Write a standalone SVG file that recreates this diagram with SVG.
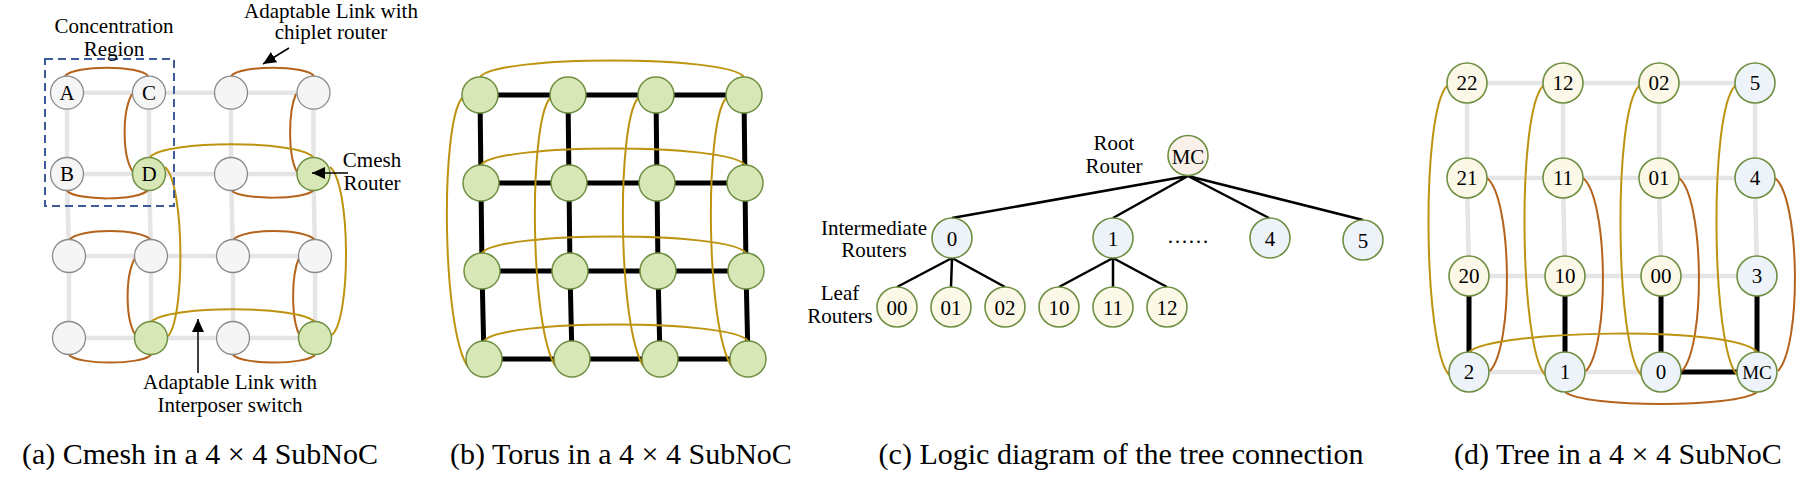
<svg xmlns="http://www.w3.org/2000/svg" width="1815" height="478" viewBox="0 0 1815 478">
<style>
.t{font-family:"Liberation Serif","Times New Roman",serif;font-size:21px;fill:#000}
.m{text-anchor:middle}
.cap{font-family:"Liberation Serif","Times New Roman",serif;font-size:30px;fill:#000;text-anchor:middle}
.gn{fill:#f5f5f5;stroke:#8a8a8a;stroke-width:1.3}
.gr{fill:#d7e8b6;stroke:#6f8f42;stroke-width:1.5}
.nb{fill:#eef3f9;stroke:#6f8f42;stroke-width:1.6}
.nc{fill:#fcf8e7;stroke:#6f8f42;stroke-width:1.6}
.np{fill:#f9f0ea;stroke:#6f8f42;stroke-width:1.6}
.mesh{stroke:#e5e5e5;stroke-width:4.5;fill:none}
.blk{stroke:#000;stroke-width:5;fill:none}
.br{stroke:#b5621b;stroke-width:2;fill:none}
.gd{stroke:#bd930f;stroke-width:2;fill:none}
.edge{stroke:#000;stroke-width:2.5;fill:none}
.arr{stroke:#000;stroke-width:1.5;fill:none;marker-end:url(#ah)}
</style>
<defs>
<marker id="ah" markerUnits="userSpaceOnUse" markerWidth="14" markerHeight="12" refX="13" refY="6" orient="auto">
<path d="M0,0 L13,6 L0,12 Z" fill="#000"/>
</marker>
</defs>
<rect width="1815" height="478" fill="#fff"/>

<g id="connectors">
<!-- panel a mesh -->
<path class="mesh" d="M67,92.7 H313.5 M67,174 H313.5 M69,256 H315 M69,338 H315 M67,92.7 L67,174 L69,256 L69,338 M149,92.7 L149,174 L151,256 L151,338 M231,92.7 L231,174 L233,256 L233,338 M313.5,92.7 L313.5,174 L315,256 L315,338"/>
<!-- panel a chiplet links -->
<path class="br" d="M65,76 C75,65 139,65 148,76"/>
<path class="br" d="M132,94 C122,112 122,156 133,172"/>
<path class="br" d="M67,191 C77,201 139,201 148,190"/>
<path class="br" d="M231,76 C241,65 305,65 314,76"/>
<path class="br" d="M296,94 C288,112 288,156 297,172"/>
<path class="br" d="M232,191 C242,200 305,200 314,190"/>
<path class="br" d="M69,240 C79,228 141,228 151,240"/>
<path class="br" d="M135,258 C125,276 125,320 136,336"/>
<path class="br" d="M69,355 C79,365 141,365 151,355"/>
<path class="br" d="M233,240 C243,228 305,228 315,240"/>
<path class="br" d="M299,258 C291,276 291,320 300,336"/>
<path class="br" d="M233,355 C243,365 305,365 315,355"/>
<!-- panel a interposer links -->
<path class="gd" d="M150,157 C165,140 298,140 313,157"/>
<path class="gd" d="M165,167 C185,185 185,318 168,336"/>
<path class="gd" d="M330,167 C351,185 351,318 332,335"/>
<path class="gd" d="M151,322 C166,305 300,305 315,322"/>

<!-- panel b torus mesh -->
<path class="blk" d="M480,95 H744 M481,183 H745 M482,271 H746 M484,359 H748 M480,95 L481,183 L482,271 L484,359 M568,95 L569,183 L570,271 L572,359 M656,95 L657,183 L658,271 L660,359 M744,95 L745,183 L746,271 L748,359"/>
<path class="gd" d="M480,77 C495,55 729,55 744,77"/>
<path class="gd" d="M481,165 C496,143 730,143 745,165"/>
<path class="gd" d="M482,253 C497,231 731,231 746,253"/>
<path class="gd" d="M484,341 C499,319 733,319 748,341"/>
<path class="gd" d="M462,98 C440,125 442,330 468,367"/>
<path class="gd" d="M550,98 C528,125 530,330 556,367"/>
<path class="gd" d="M638,98 C616,125 618,330 644,367"/>
<path class="gd" d="M726,98 C704,125 706,330 732,367"/>

<!-- panel c tree edges -->
<path class="edge" d="M1188,176 L952,218 M1188,176 L1113,218 M1188,176 L1269,218 M1188,176 L1363,220"/>
<path class="edge" d="M952,258 L897,287 M952,258 L951,287 M952,258 L1005,287"/>
<path class="edge" d="M1113,258 L1059,287 M1113,258 L1113,287 M1113,258 L1167,287"/>

<!-- panel d mesh -->
<path class="mesh" d="M1467,83 H1755 M1467,178 H1755 M1469,276 H1757 M1469,372 H1661 M1467,83 L1467,178 L1469,276 M1563,83 L1563,178 L1565,276 M1659,83 L1659,178 L1661,276 M1755,83 L1755,178 L1757,276"/>
<path class="blk" d="M1469,276 V372 M1565,276 V372 M1661,276 V372 M1757,276 V372 M1661,372 H1757"/>
<path class="gd" d="M1447,86 C1421,112 1423,345 1449,375"/>
<path class="gd" d="M1543,86 C1517,112 1519,345 1545,375"/>
<path class="gd" d="M1639,86 C1613,112 1615,345 1641,375"/>
<path class="gd" d="M1735,86 C1709,112 1711,345 1737,375"/>
<path class="br" d="M1487,178 C1512,198 1514,345 1490,371"/>
<path class="br" d="M1583,178 C1608,198 1610,345 1586,371"/>
<path class="br" d="M1679,178 C1704,198 1706,345 1682,371"/>
<path class="br" d="M1775,178 C1800,198 1802,345 1778,371"/>
<path class="gd" d="M1469,352 C1490,330 1735,325 1757,352"/>
<path class="br" d="M1565,392 C1585,408 1737,408 1757,392"/>
</g>

<!-- panel a region -->
<rect id="a-region" x="45" y="59" width="129" height="147" fill="none" stroke="#3d5a99" stroke-width="2" stroke-dasharray="8 5"/>

<!-- panel a nodes -->
<g id="a-A"><circle class="gn" cx="67" cy="92.7" r="16.5"/><text class="t m" x="67" y="99.5">A</text></g>
<g id="a-C"><circle class="gn" cx="149" cy="92.7" r="16.5"/><text class="t m" x="149" y="99.5">C</text></g>
<g id="a-n13"><circle class="gn" cx="231" cy="92.7" r="16.5"/></g>
<g id="a-n14"><circle class="gn" cx="313.5" cy="92.7" r="16.5"/></g>
<g id="a-B"><circle class="gn" cx="67" cy="174" r="16.5"/><text class="t m" x="67" y="181">B</text></g>
<g id="a-D"><circle class="gr" cx="149" cy="174" r="16.5"/><text class="t m" x="149" y="181">D</text></g>
<g id="a-n23"><circle class="gn" cx="231" cy="174" r="16.5"/></g>
<g id="a-n24"><circle class="gr" cx="313.5" cy="174" r="16.5"/></g>
<g id="a-n31"><circle class="gn" cx="69" cy="256" r="16.5"/></g>
<g id="a-n32"><circle class="gn" cx="151" cy="256" r="16.5"/></g>
<g id="a-n33"><circle class="gn" cx="233" cy="256" r="16.5"/></g>
<g id="a-n34"><circle class="gn" cx="315" cy="256" r="16.5"/></g>
<g id="a-n41"><circle class="gn" cx="69" cy="338" r="16.5"/></g>
<g id="a-n42"><circle class="gr" cx="151" cy="338" r="16.5"/></g>
<g id="a-n43"><circle class="gn" cx="233" cy="338" r="16.5"/></g>
<g id="a-n44"><circle class="gr" cx="315" cy="338" r="16.5"/></g>

<!-- panel a annotation arrows (drawn over nodes) -->
<g id="a-arrows">
<line class="arr" x1="289" y1="48" x2="263" y2="64"/>
<line class="arr" x1="348" y1="173" x2="312" y2="173"/>
<line class="arr" x1="198" y1="373" x2="198" y2="319"/>
</g>

<g id="a-labels">
<text class="t m" x="114" y="33">Concentration</text>
<text class="t m" x="114" y="56">Region</text>
<text class="t m" x="331" y="18">Adaptable Link with</text>
<text class="t m" x="331" y="39">chiplet router</text>
<text class="t m" x="372" y="167">Cmesh</text>
<text class="t m" x="372" y="190">Router</text>
<text class="t m" x="230" y="389">Adaptable Link with</text>
<text class="t m" x="230" y="412">Interposer switch</text>
</g>

<!-- panel b nodes -->
<g id="b-n11"><circle class="gr" cx="480" cy="95" r="18"/></g>
<g id="b-n12"><circle class="gr" cx="568" cy="95" r="18"/></g>
<g id="b-n13"><circle class="gr" cx="656" cy="95" r="18"/></g>
<g id="b-n14"><circle class="gr" cx="744" cy="95" r="18"/></g>
<g id="b-n21"><circle class="gr" cx="481" cy="183" r="18"/></g>
<g id="b-n22"><circle class="gr" cx="569" cy="183" r="18"/></g>
<g id="b-n23"><circle class="gr" cx="657" cy="183" r="18"/></g>
<g id="b-n24"><circle class="gr" cx="745" cy="183" r="18"/></g>
<g id="b-n31"><circle class="gr" cx="482" cy="271" r="18"/></g>
<g id="b-n32"><circle class="gr" cx="570" cy="271" r="18"/></g>
<g id="b-n33"><circle class="gr" cx="658" cy="271" r="18"/></g>
<g id="b-n34"><circle class="gr" cx="746" cy="271" r="18"/></g>
<g id="b-n41"><circle class="gr" cx="484" cy="359" r="18"/></g>
<g id="b-n42"><circle class="gr" cx="572" cy="359" r="18"/></g>
<g id="b-n43"><circle class="gr" cx="660" cy="359" r="18"/></g>
<g id="b-n44"><circle class="gr" cx="748" cy="359" r="18"/></g>

<!-- panel c nodes -->
<g id="c-MC"><circle class="np" cx="1188" cy="155.5" r="20"/><text class="t m" x="1188" y="164">MC</text></g>
<g id="c-0"><circle class="nb" cx="952" cy="238" r="20"/><text class="t m" x="952" y="246">0</text></g>
<g id="c-1"><circle class="nb" cx="1113" cy="238" r="20"/><text class="t m" x="1113" y="246">1</text></g>
<g id="c-4"><circle class="nb" cx="1270" cy="238" r="20"/><text class="t m" x="1270" y="246">4</text></g>
<g id="c-5"><circle class="nb" cx="1363" cy="240" r="20"/><text class="t m" x="1363" y="248">5</text></g>
<g id="c-00"><circle class="nc" cx="897" cy="307" r="20"/><text class="t m" x="897" y="315">00</text></g>
<g id="c-01"><circle class="nc" cx="951" cy="307" r="20"/><text class="t m" x="951" y="315">01</text></g>
<g id="c-02"><circle class="nc" cx="1005" cy="307" r="20"/><text class="t m" x="1005" y="315">02</text></g>
<g id="c-10"><circle class="nc" cx="1059" cy="307" r="20"/><text class="t m" x="1059" y="315">10</text></g>
<g id="c-11"><circle class="nc" cx="1113" cy="307" r="20"/><text class="t m" x="1113" y="315">11</text></g>
<g id="c-12"><circle class="nc" cx="1167" cy="307" r="20"/><text class="t m" x="1167" y="315">12</text></g>
<g id="c-labels">
<text class="t m" x="1114" y="150">Root</text>
<text class="t m" x="1114" y="173">Router</text>
<text class="t m" x="874" y="235">Intermediate</text>
<text class="t m" x="874" y="257">Routers</text>
<text class="t m" x="840" y="300">Leaf</text>
<text class="t m" x="840" y="323">Routers</text>
<text class="t" x="1167" y="243">……</text>
</g>

<!-- panel d nodes -->
<g id="d-22"><circle class="nc" cx="1467" cy="83" r="20"/><text class="t m" x="1467" y="90">22</text></g>
<g id="d-12"><circle class="nc" cx="1563" cy="83" r="20"/><text class="t m" x="1563" y="90">12</text></g>
<g id="d-02"><circle class="nc" cx="1659" cy="83" r="20"/><text class="t m" x="1659" y="90">02</text></g>
<g id="d-5"><circle class="nb" cx="1755" cy="83" r="20"/><text class="t m" x="1755" y="90">5</text></g>
<g id="d-21"><circle class="nc" cx="1467" cy="178" r="20"/><text class="t m" x="1467" y="185">21</text></g>
<g id="d-11"><circle class="nc" cx="1563" cy="178" r="20"/><text class="t m" x="1563" y="185">11</text></g>
<g id="d-01"><circle class="nc" cx="1659" cy="178" r="20"/><text class="t m" x="1659" y="185">01</text></g>
<g id="d-4"><circle class="nb" cx="1755" cy="178" r="20"/><text class="t m" x="1755" y="185">4</text></g>
<g id="d-20"><circle class="nc" cx="1469" cy="276" r="20"/><text class="t m" x="1469" y="283">20</text></g>
<g id="d-10"><circle class="nc" cx="1565" cy="276" r="20"/><text class="t m" x="1565" y="283">10</text></g>
<g id="d-00"><circle class="nc" cx="1661" cy="276" r="20"/><text class="t m" x="1661" y="283">00</text></g>
<g id="d-3"><circle class="nb" cx="1757" cy="276" r="20"/><text class="t m" x="1757" y="283">3</text></g>
<g id="d-2"><circle class="nb" cx="1469" cy="372" r="20"/><text class="t m" x="1469" y="379">2</text></g>
<g id="d-1"><circle class="nb" cx="1565" cy="372" r="20"/><text class="t m" x="1565" y="379">1</text></g>
<g id="d-0"><circle class="nb" cx="1661" cy="372" r="20"/><text class="t m" x="1661" y="379">0</text></g>
<g id="d-MC"><circle class="nb" cx="1757" cy="372" r="20"/><text class="t m" x="1757" y="379" style="font-size:19px">MC</text></g>

<g id="captions">
<text class="cap" x="200" y="464">(a) Cmesh in a 4 × 4 SubNoC</text>
<text class="cap" x="621" y="464">(b) Torus in a 4 × 4 SubNoC</text>
<text class="cap" x="1121" y="464">(c) Logic diagram of the tree connection</text>
<text class="cap" x="1618" y="464">(d) Tree in a 4 × 4 SubNoC</text>
</g>
</svg>
